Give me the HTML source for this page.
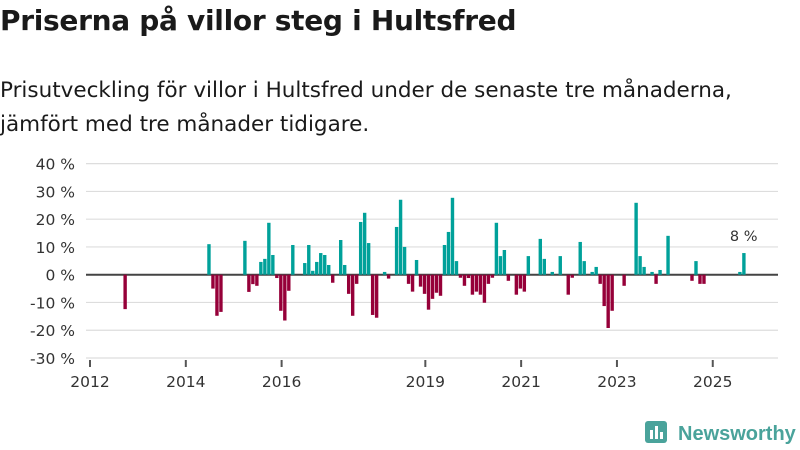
<!DOCTYPE html>
<html><head><meta charset="utf-8"><style>
body{margin:0;width:800px;height:450px;background:#fff;font-family:"DejaVu Sans","Liberation Sans",sans-serif;color:#1a1a1a;overflow:hidden;position:relative}
h1{position:absolute;left:0;top:4px;margin:0;font-size:28px;font-weight:bold;letter-spacing:-0.3px}
p{position:absolute;left:0;top:74px;margin:0;font-size:21.5px;line-height:34px;letter-spacing:0px}
svg{position:absolute;left:0;top:0}
</style></head><body>
<h1>Priserna på villor steg i Hultsfred</h1>
<p>Prisutveckling för villor i Hultsfred under de senaste tre månaderna,<br>jämfört med tre månader tidigare.</p>
<svg id="c" width="800" height="450" font-family="DejaVu Sans, Liberation Sans, sans-serif"></svg>
<script>
const months=[8,29,30,31,32,38,39,40,41,42,43,44,45,46,47,48,49,50,53,54,55,56,57,58,59,60,62,63,64,65,66,67,68,69,70,71,73,74,76,77,78,79,80,81,82,83,84,85,86,87,88,89,90,91,92,93,94,95,96,97,98,99,100,101,102,103,104,106,107,108,109,112,113,115,117,119,120,122,123,125,126,127,128,129,130,133,136,137,138,140,141,142,144,150,151,152,153,162,163];
const values=[-12.4,11,-5,-14.8,-13.4,12.2,-6.2,-3.4,-4,4.6,5.7,18.7,7.1,-1.2,-13,-16.5,-5.8,10.7,4.2,10.7,1.4,4.6,7.8,7.1,3.5,-2.9,12.5,3.5,-6.9,-14.8,-3.3,19,22.3,11.4,-14.5,-15.5,1,-1.4,17.2,27,10,-3.3,-6.1,5.3,-4.3,-6.9,-12.6,-8.7,-6.5,-7.6,10.7,15.4,27.7,4.9,-1.1,-4,-1.2,-7.2,-6.1,-7.2,-10.1,-3.3,-1.1,18.7,6.7,8.9,-2.2,-7.2,-5,-6.1,6.7,12.9,5.7,1,6.7,-7.2,-1.1,11.8,4.9,1,2.8,-3.3,-11.3,-19.2,-13,-4,25.9,6.7,2.8,1,-3.3,1.7,14,-2.2,4.9,-3.3,-3.3,1,7.8];
const yTicks=[40,30,20,10,0,-10,-20,-30];
const xTickYears=[2012,2014,2016,2019,2021,2023,2025];
const NS="http://www.w3.org/2000/svg",svg=document.getElementById('c');
const y=v=>274.7-v*2.776;
const x=m=>90+m*3.992;
function mk(t,a){const e=document.createElementNS(NS,t);for(const k in a)e.setAttribute(k,a[k]);svg.appendChild(e);return e;}
yTicks.forEach(v=>{
 const g=mk('line',{x1:86,x2:778,y1:y(v),y2:y(v),stroke:v===0?'#444':'#ddd','stroke-width':v===0?2:1.2});
 
 
 const t=mk('text',{x:75,y:y(v)+6,'text-anchor':'end','font-size':15.5,fill:'#333'});
 t.textContent=v+' %';
 
 
});
xTickYears.forEach(yr=>{
 const xx=x((yr-2012)*12);
 const l=mk('line',{x1:xx,x2:xx,y1:360,y2:367,stroke:'#555','stroke-width':2});
 
 
 const t=mk('text',{x:xx,y:387,'text-anchor':'middle','font-size':15.5,fill:'#333'});
 t.textContent=yr;
 
 
});
months.forEach((m,i)=>{
 const v=values[i];
 const r=mk('rect',{x:x(m)+1.5,width:3.4,y:Math.min(y(v),y(0)),height:Math.abs(y(v)-y(0)),fill:v>=0?'#00a19a':'#960039'});
 
 
});
const li=months.length-1;
const lb=mk('text',{x:x(months[li])+3,y:y(values[li])-12,'text-anchor':'middle','font-size':14.5,fill:'#333'});
lb.textContent=Math.round(values[li])+' %';


</script>
<svg width="800" height="450" style="pointer-events:none">
<rect x="645" y="421" width="22" height="22" rx="3" fill="#4aa39b"/>
<rect x="650" y="430" width="3" height="9" fill="#fff"/><rect x="655" y="426" width="3" height="13" fill="#fff"/><rect x="660" y="432" width="3" height="7" fill="#fff"/>
<text x="678" y="440" font-size="20" font-weight="bold" fill="#4aa39b" font-family="Liberation Sans,sans-serif">Newsworthy</text>
</svg>
</body></html>
